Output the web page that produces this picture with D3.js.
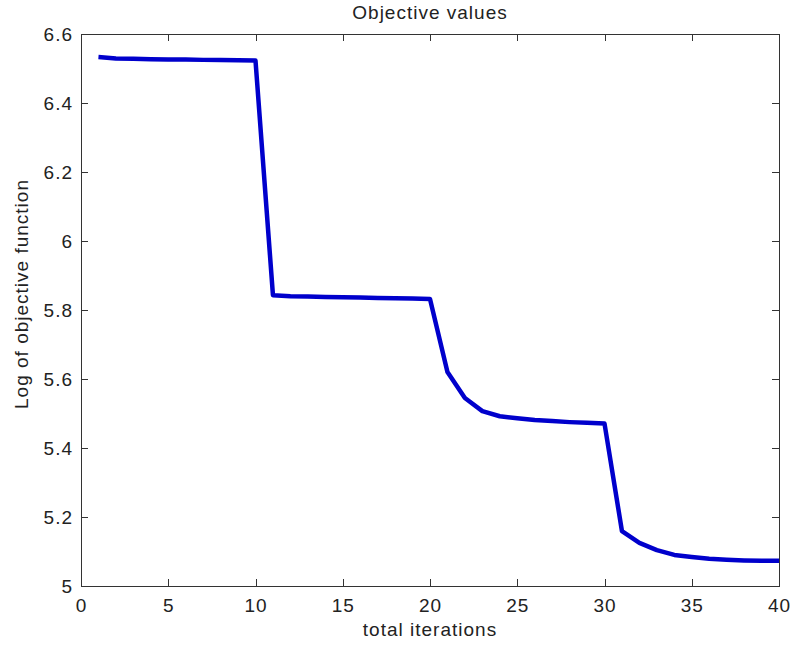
<!DOCTYPE html>
<html>
<head>
<meta charset="utf-8">
<script src="https://cdn.jsdelivr.net/npm/d3@7"></script>
<style>
  html, body { margin: 0; padding: 0; background: #fff; }
  svg text { font-family: "Liberation Sans", Arial, sans-serif; fill: #222; letter-spacing: 1px; }
</style>
</head>
<body>
<svg id="chart" width="792" height="646"></svg>
<script>
// Iteration numbers and the log of the objective at each one
const iterations = d3.range(1, 41);
const logObjective = [
  6.533, 6.529, 6.528, 6.527, 6.526, 6.526, 6.525, 6.525, 6.524, 6.523,
  5.843, 5.840, 5.839, 5.838, 5.837, 5.836, 5.835, 5.834, 5.833, 5.832,
  5.620, 5.545, 5.507, 5.492, 5.486, 5.481, 5.478, 5.475, 5.473, 5.471,
  5.159, 5.125, 5.104, 5.090, 5.084, 5.079, 5.076, 5.074, 5.073, 5.073
];
const xTicks = [0, 5, 10, 15, 20, 25, 30, 35, 40];
const yTicks = [5, 5.2, 5.4, 5.6, 5.8, 6, 6.2, 6.4, 6.6];

const chartTitle = "Objective values";
const xTitle = "total iterations";
const yTitle = "Log of objective function";

const margin = { left: 81, top: 34, right: 13, bottom: 60 };
const W = 792, H = 646;
const fontSize = 19;
const svg = d3.select("#chart");

const x = d3.scaleLinear().domain([0, 40]).range([margin.left, W - margin.right]);
const y = d3.scaleLinear().domain([5, 6.6]).range([H - margin.bottom, margin.top]);

const x0 = x.range()[0], x1 = x.range()[1];
const y0 = y.range()[0], y1 = y.range()[1];
const tickLen = 7;
const axisColor = "#333";

// Plot box
svg.append("rect")
  .attr("x", x0).attr("y", y1)
  .attr("width", x1 - x0).attr("height", y0 - y1)
  .attr("fill", "none").attr("stroke", axisColor).attr("stroke-width", 1)
  .attr("shape-rendering", "crispEdges");

// Bottom and left axes with inward ticks
const fmt = d => String(+d.toFixed(1));
const axisB = svg.append("g").attr("transform", `translate(0,${y0})`)
  .call(d3.axisBottom(x).tickValues(xTicks).tickSize(-tickLen).tickPadding(tickLen + 6).tickFormat(fmt));
const axisL = svg.append("g").attr("transform", `translate(${x0},0)`)
  .call(d3.axisLeft(y).tickValues(yTicks).tickSize(-tickLen).tickPadding(8).tickFormat(fmt));
// Top and right axes: ticks only
const axisT = svg.append("g").attr("transform", `translate(0,${y1})`)
  .call(d3.axisTop(x).tickValues(xTicks).tickSize(-tickLen).tickFormat(""));
const axisR = svg.append("g").attr("transform", `translate(${x1},0)`)
  .call(d3.axisRight(y).tickValues(yTicks).tickSize(-tickLen).tickFormat(""));

[axisB, axisL, axisT, axisR].forEach(g => {
  g.select(".domain").remove();
  g.selectAll(".tick line").attr("stroke", axisColor).attr("shape-rendering", "crispEdges");
  g.selectAll("text").attr("font-size", fontSize).attr("font-family", "Liberation Sans, Arial, sans-serif").attr("fill", "#222");
});

// Objective curve
const line = d3.line().x((d, i) => x(iterations[i])).y(d => y(d));
svg.append("path")
  .datum(logObjective)
  .attr("d", line)
  .attr("fill", "none")
  .attr("stroke", "#0000cc")
  .attr("stroke-width", 4.5)
  .attr("stroke-linejoin", "round");

// Titles
svg.append("text")
  .attr("x", (x0 + x1) / 2).attr("y", 19)
  .attr("text-anchor", "middle").attr("font-size", fontSize)
  .text(chartTitle);
svg.append("text")
  .attr("x", (x0 + x1) / 2).attr("y", 636)
  .attr("text-anchor", "middle").attr("font-size", fontSize)
  .text(xTitle);
svg.append("text")
  .attr("transform", `translate(28,294) rotate(-90)`)
  .attr("text-anchor", "middle").attr("font-size", fontSize)
  .text(yTitle);
</script>
</body>
</html>
